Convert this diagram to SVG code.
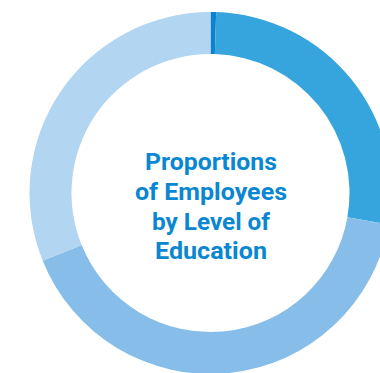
<svg xmlns="http://www.w3.org/2000/svg" width="380" height="373" viewBox="0 0 380 373">
<style>
.t{font-family:Roboto,"Liberation Sans",sans-serif;font-weight:700;font-size:23px;fill:#0a87d3;text-anchor:middle}
</style>
<rect width="380" height="373" fill="#ffffff"/>
<g id="donut">
<path id="seg1" fill="#0b83cf" d="M210.5,12 A181,181 0 0 1 216.19,12.09 L214.87,54.07 A139,139 0 0 0 210.5,54 Z"/>
<path id="seg2" fill="#36a5de" d="M216.19,12.09 A181,181 0 0 1 388.75,224.43 L347.39,217.14 A139,139 0 0 0 214.87,54.07 Z"/>
<path id="seg3" fill="#86bee9" d="M388.75,224.43 A181,181 0 0 1 42.68,260.8 L81.62,245.07 A139,139 0 0 0 347.39,217.14 Z"/>
<path id="seg4" fill="#b2d5f1" d="M42.68,260.8 A181,181 0 0 1 210.5,12 L210.5,54 A139,139 0 0 0 81.62,245.07 Z"/>
</g>
<g id="title">
<text class="t" x="211" y="170" textLength="132" lengthAdjust="spacingAndGlyphs">Proportions</text>
<text class="t" x="211" y="200" textLength="152" lengthAdjust="spacingAndGlyphs">of Employees</text>
<text class="t" x="211" y="229.5" textLength="118" lengthAdjust="spacingAndGlyphs">by Level of</text>
<text class="t" x="211" y="259.3" textLength="112" lengthAdjust="spacingAndGlyphs">Education</text>
</g>
</svg>
